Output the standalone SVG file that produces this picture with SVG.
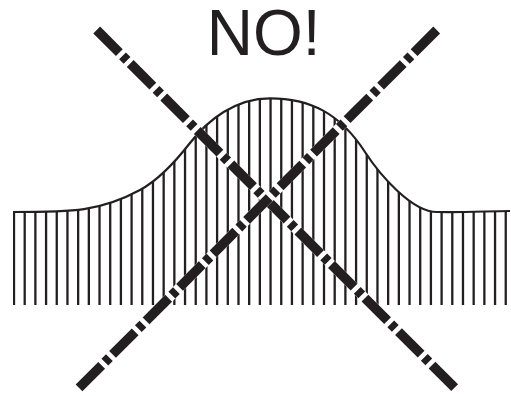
<svg xmlns="http://www.w3.org/2000/svg" width="511" height="396" viewBox="0 0 511 396">
  <style>
    .hatch { stroke: #231f20; stroke-width: 2.3; fill: none; }
    .curve { stroke: #231f20; stroke-width: 2.2; fill: none; }
    .under { stroke: #ffffff; stroke-width: 9.6; stroke-linecap: butt; }
    .dash { stroke: #231f20; stroke-width: 9.6; stroke-linecap: butt; stroke-dasharray: 32 4.5 6.4 4.5; }
    .label { font-family: "Liberation Sans", Arial, Helvetica, sans-serif; font-size: 64px; fill: #231f20; }
  </style>
  <defs>
    <clipPath id="under-curve">
      <path d="M13,212 C73,212 100,211.6 140,190 C157,180.8 173,164.8 190,143 C208,120 235,98.3 270,98.3 C310,98.3 340,113.25 365,152 C380,175.25 412,212 437,212 C465,212.6 490,211 510,211 L510,306 L13,306 Z"/>
    </clipPath>
  </defs>
  <rect width="511" height="396" fill="#ffffff"/>
  <g id="title">
    <text class="label" x="206.8" y="55">NO!</text>
  </g>
  <g id="hatched-profile">
    <path class="hatch" clip-path="url(#under-curve)" d="M14,90V305 M24.69,90V305 M35.38,90V305 M46.07,90V305 M56.76,90V305 M67.45,90V305 M78.14,90V305 M88.83,90V305 M99.52,90V305 M110.21,90V305 M120.9,90V305 M131.59,90V305 M142.28,90V305 M152.97,90V305 M163.66,90V305 M174.35,90V305 M185.04,90V305 M195.73,90V305 M206.42,90V305 M217.11,90V305 M227.8,90V305 M238.49,90V305 M249.18,90V305 M259.87,90V305 M270.56,90V305 M281.25,90V305 M291.94,90V305 M302.63,90V305 M313.32,90V305 M324.01,90V305 M334.7,90V305 M345.39,90V305 M356.08,90V305 M366.77,90V305 M377.46,90V305 M388.15,90V305 M398.84,90V305 M409.53,90V305 M420.22,90V305 M430.91,90V305 M441.6,90V305 M452.29,90V305 M462.98,90V305 M473.67,90V305 M484.36,90V305 M495.05,90V305 M505.74,90V305"/>
    <path class="curve" d="M13,212 C73,212 100,211.6 140,190 C157,180.8 173,164.8 190,143 C208,120 235,98.3 270,98.3 C310,98.3 340,113.25 365,152 C380,175.25 412,212 437,212 C465,212.6 490,211 510,211"/>
  </g>
  <g id="cross">
    <line class="under" x1="96.7" y1="30" x2="456" y2="389"/>
    <line class="dash" x1="96.7" y1="30" x2="456" y2="389"/>
    <line class="under" x1="436.7" y1="30" x2="76" y2="391"/>
    <line class="dash" x1="436.7" y1="30" x2="76" y2="391"/>
  </g>
</svg>
